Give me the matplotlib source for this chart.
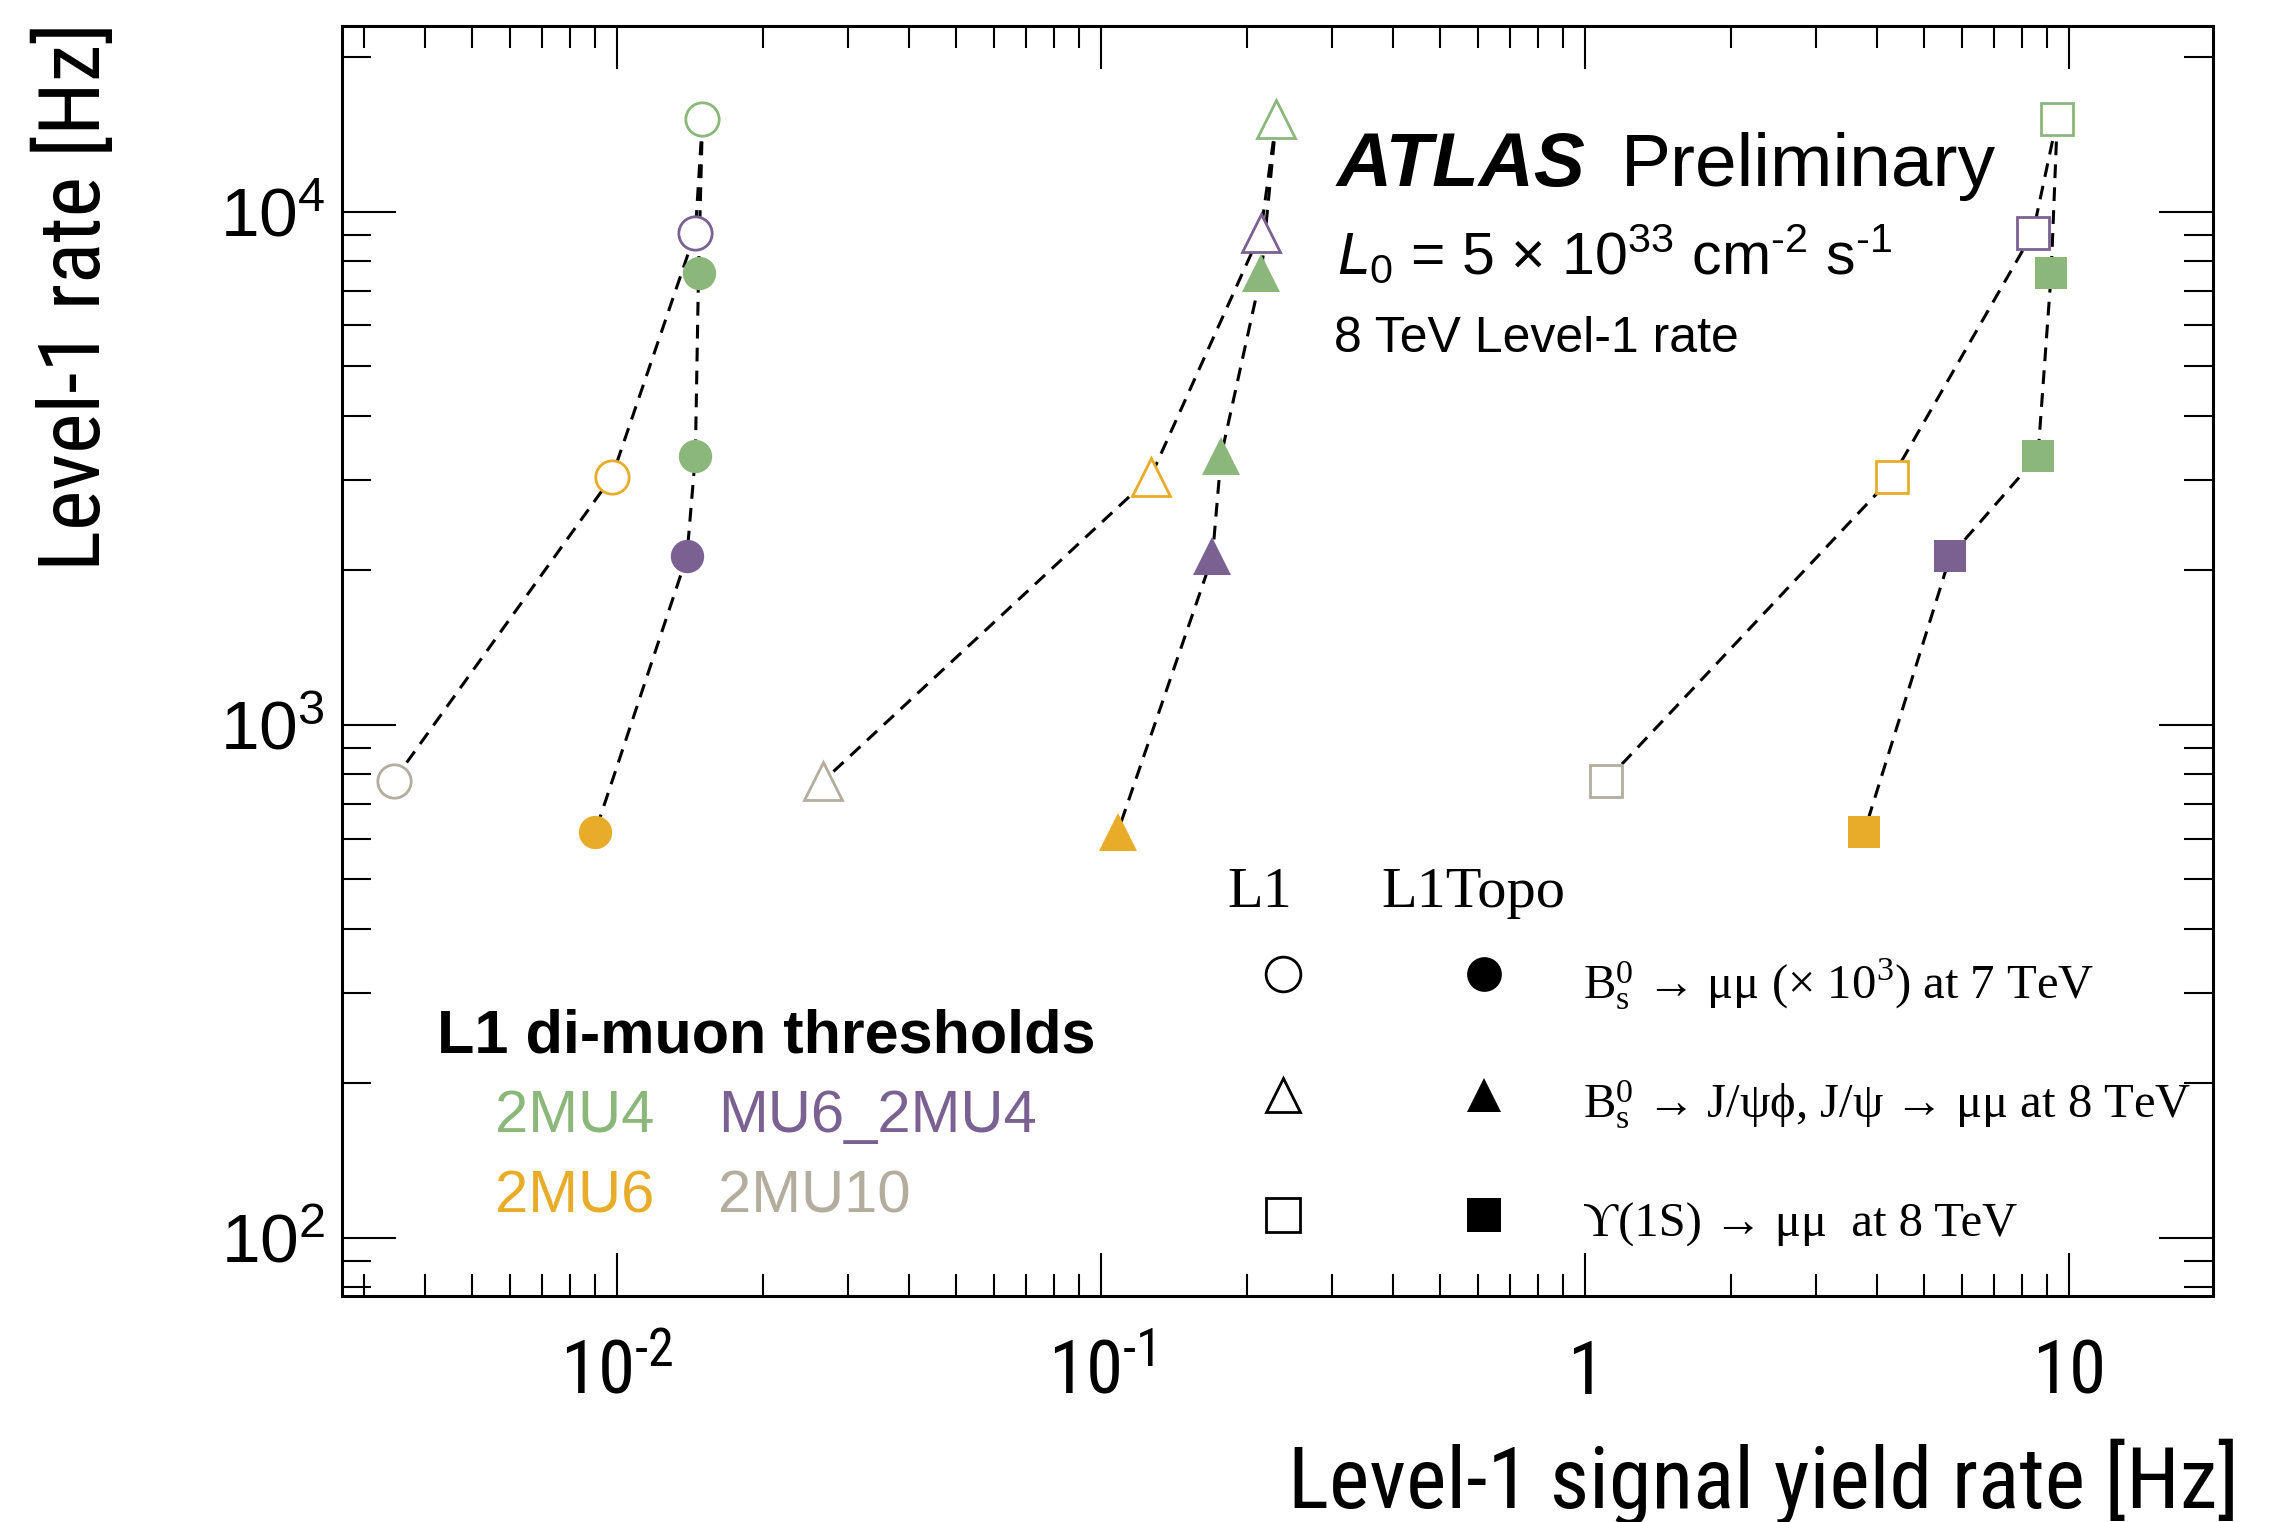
#!/usr/bin/env python3
"""L1 di-muon rate vs signal yield (L1 vs L1Topo)."""

import matplotlib
matplotlib.use("Agg")
import matplotlib.pyplot as plt
from matplotlib import font_manager
from matplotlib.ticker import FixedLocator, LogLocator, NullFormatter

W, H = 2284, 1522

# thresholds, in the order the dashed lines run
THRESHOLDS = ["2MU4", "MU6_2MU4", "2MU6", "2MU10"]
COLORS = {"2MU4": "#8bb77a", "MU6_2MU4": "#7a6192", "2MU6": "#e8ac2b", "2MU10": "#b3ad9e"}

# L1 (open markers): 2MU4, MU6_2MU4, 2MU6, 2MU10
L1_RATE = [15180, 9100, 3040, 777]
L1_BS_MUMU = [0.0150, 0.0145, 0.00975, 0.00345]
L1_BS_JPSIPHI = [0.230, 0.2135, 0.1264, 0.02665]
L1_UPSILON = [9.44, 8.41, 4.31, 1.104]

# L1Topo (filled markers)
TOPO_COLORS = ["2MU4", "2MU4", "MU6_2MU4", "2MU6"]
TOPO_RATE = [7585, 3340, 2128, 619]
TOPO_BS_MUMU = [0.01472, 0.0145, 0.01393, 0.00901]
TOPO_BS_JPSIPHI = [0.2141, 0.1768, 0.1697, 0.1082]
TOPO_UPSILON = [9.17, 8.61, 5.67, 3.77]

SAMPLES = [
    ("o", 24, L1_BS_MUMU, TOPO_BS_MUMU),
    ("^", 27, L1_BS_JPSIPHI, TOPO_BS_JPSIPHI),
    ("s", 23, L1_UPSILON, TOPO_UPSILON),
]

LEGEND_TEXT = [
    r"$\mathrm{B_s^0}$ → μμ (× 10$^{3}$) at 7 TeV",
    r"$\mathrm{B_s^0}$ → J/ψϕ, J/ψ → μμ at 8 TeV",
    "ϒ(1S) → μμ  at 8 TeV",
]

SANS = ["Liberation Sans", "DejaVu Sans"]
SERIF = ["Liberation Serif", "DejaVu Serif"]


def pick_narrow():
    fonts = font_manager.fontManager.ttflist
    names = {f.name for f in fonts}
    for cand in ["Liberation Sans Narrow", "Arial Narrow", "Roboto Condensed",
                 "Open Sans Condensed", "Noto Sans Condensed"]:
        if cand in names:
            return cand, "normal", 1.0
    for f in fonts:
        if f.name == "DejaVu Sans" and str(f.stretch) == "condensed":
            return "DejaVu Sans", "condensed", 0.95
    return "Liberation Sans", "normal", 0.85


def fx(px):
    return px / W


def fy(py):
    return 1 - py / H


def main():
    narrow, stretch, scale = pick_narrow()
    plt.rcParams.update({
        "font.family": SANS,
        "mathtext.fontset": "custom",
        "mathtext.rm": "Liberation Serif",
        "mathtext.sf": "Liberation Sans",
        "mathtext.tt": narrow,
        "mathtext.it": "Liberation Sans:italic",
        "mathtext.bf": "Liberation Sans:bold",
    })
    nfont = dict(family=[narrow, "DejaVu Sans"], fontstretch=stretch)

    fig = plt.figure(figsize=(W / 100, H / 100), dpi=100)
    ax = fig.add_axes([fx(342), fy(1296), fx(2213) - fx(342), fy(26) - fy(1296)])
    ax.set_xscale("log")
    ax.set_yscale("log")
    ax.set_xlim(0.0027, 19.8)
    ax.set_ylim(77, 23000)

    dash = (0, (4.5, 3))
    for marker, ms, l1_x, topo_x in SAMPLES:
        # dashed guides; the L1Topo one starts from the top L1 point
        ax.plot(l1_x, L1_RATE, ls=dash, lw=2.2, color="black", zorder=2)
        ax.plot([l1_x[0]] + topo_x, [L1_RATE[0]] + TOPO_RATE,
                ls=dash, lw=2.2, color="black", zorder=2)
        for x, y, thr in zip(l1_x, L1_RATE, THRESHOLDS):
            ax.plot(x, y, marker=marker, ms=ms, mfc="white", mec=COLORS[thr],
                    mew=2, ls="none", zorder=3)
        for x, y, thr in zip(topo_x, TOPO_RATE, TOPO_COLORS):
            ax.plot(x, y, marker=marker, ms=ms, mfc=COLORS[thr], mec=COLORS[thr],
                    mew=0, ls="none", zorder=4)

    # ROOT-like axes
    for s in ax.spines.values():
        s.set_linewidth(2.2)
    ax.tick_params(which="both", direction="in", top=True, right=True, width=1.5)
    ax.tick_params(axis="y", which="major", length=39, pad=12)
    ax.tick_params(axis="y", which="minor", length=21)
    ax.tick_params(axis="x", which="major", length=31, pad=30)
    ax.tick_params(axis="x", which="minor", length=16)
    ax.yaxis.set_major_locator(FixedLocator([1e2, 1e3, 1e4]))
    ax.yaxis.set_minor_locator(LogLocator(base=10, subs=range(2, 10), numticks=20))
    ax.yaxis.set_minor_formatter(NullFormatter())
    ax.set_yticklabels([r"$\mathsf{10^{2}}$", r"$\mathsf{10^{3}}$", r"$\mathsf{10^{4}}$"],
                       fontsize=50)
    ax.xaxis.set_major_locator(FixedLocator([1e-2, 1e-1, 1, 10]))
    ax.xaxis.set_minor_locator(LogLocator(base=10, subs=range(2, 10), numticks=20))
    ax.xaxis.set_minor_formatter(NullFormatter())
    ax.set_xticklabels([r"$\mathtt{10^{‐2}}$", r"$\mathtt{10^{‐1}}$", "1", "10"],
                       fontsize=54 * scale, **nfont)

    fig.text(fx(2239), fy(1508), "Level-1 signal yield rate [Hz]", ha="right",
             va="baseline", fontsize=62 * scale, **nfont)
    fig.text(fx(76), fy(22), "Level-1 rate [Hz]", ha="center", va="top",
             rotation=90, fontsize=62 * scale, **nfont)

    # ATLAS label
    fig.text(fx(1337), fy(186), "ATLAS", fontsize=55, fontweight="bold",
             fontstyle="italic", va="baseline")
    fig.text(fx(1621), fy(186), "Preliminary", fontsize=54, va="baseline")
    fig.text(fx(1337), fy(274),
             r"$\mathit{L}_{\mathsf{0}}$ = 5 × 10$^{\mathsf{33}}$ cm$^{\mathsf{‐2}}$ s$^{\mathsf{‐1}}$",
             fontsize=42.5, va="baseline")
    fig.text(fx(1334), fy(352), "8 TeV Level-1 rate", fontsize=36, va="baseline")

    # threshold colour key
    fig.text(fx(437), fy(1037), "L1 di-muon thresholds", fontsize=44,
             fontweight="bold", va="center")
    key_pos = {"2MU4": (495, 1117), "MU6_2MU4": (718, 1117),
               "2MU6": (495, 1197), "2MU10": (718, 1197)}
    for thr in THRESHOLDS:
        px, py = key_pos[thr]
        fig.text(fx(px), fy(py), thr, fontsize=43, color=COLORS[thr], va="center")

    # marker key
    fig.text(fx(1260), fy(893), "L1", fontsize=42, family=SERIF, ha="center", va="center")
    fig.text(fx(1381), fy(893), "L1Topo", fontsize=42, family=SERIF, va="center")
    rows = [974, 1095, 1215]
    for (marker, _, _, _), py, label in zip(SAMPLES, rows, LEGEND_TEXT):
        ax.plot([fx(1283)], [fy(py)], marker=marker, ms=25, mfc="white", mec="black",
                mew=2, transform=fig.transFigure, clip_on=False)
        ax.plot([fx(1484)], [fy(py)], marker=marker, ms=25, mfc="black", mec="black",
                mew=0, transform=fig.transFigure, clip_on=False)
        fig.text(fx(1583), fy(py + 10), label, fontsize=35, family=SERIF, va="center")

    fig.savefig("out.png", dpi=100)
    plt.close(fig)


if __name__ == "__main__":
    main()
